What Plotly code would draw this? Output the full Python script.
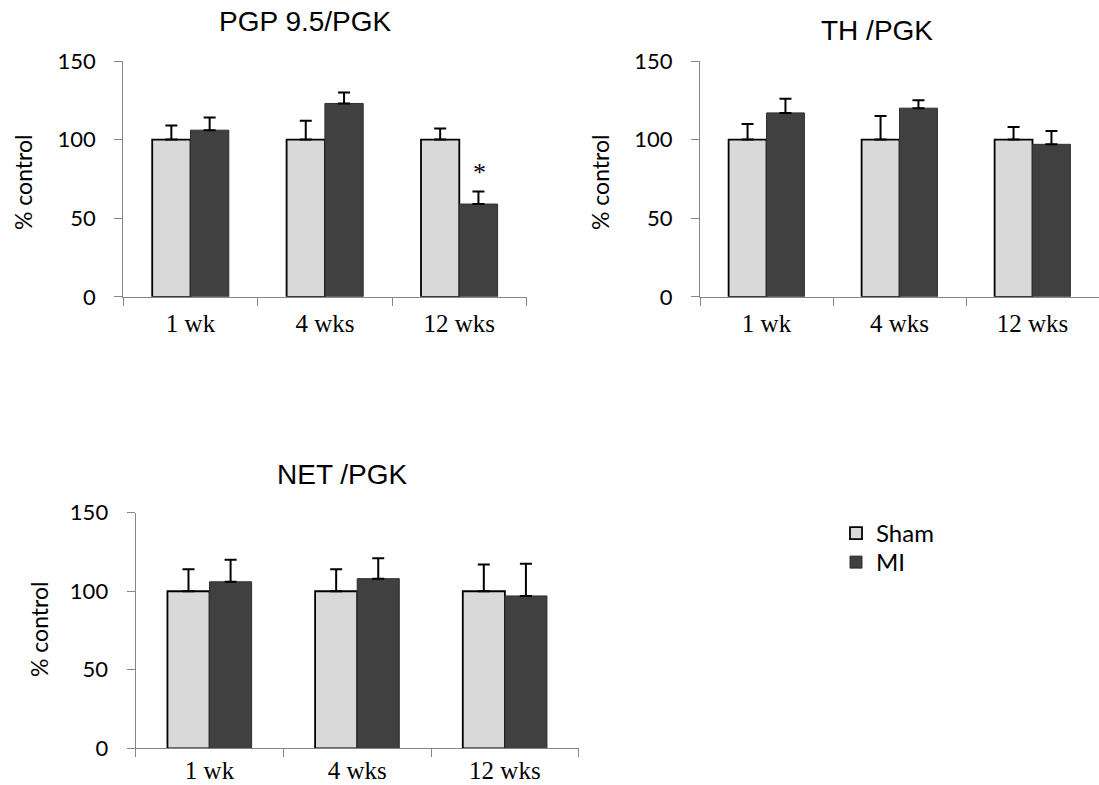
import plotly.graph_objects as go

categories = ["1 wk", "4 wks", "12 wks"]

pgp_sham = [100, 100, 100]
pgp_sham_err = [9, 12, 7]
pgp_mi = [106, 123, 59]
pgp_mi_err = [8, 7, 8]

th_sham = [100, 100, 100]
th_sham_err = [10, 15, 8]
th_mi = [117, 120, 97]
th_mi_err = [9, 5, 8.5]

net_sham = [100, 100, 100]
net_sham_err = [14, 14, 17]
net_mi = [106, 108, 97]
net_mi_err = [14, 13, 20.5]

titles = ["PGP 9.5/PGK", "TH /PGK", "NET /PGK"]
y_title = "% control"

SHAM_COLOR = "#d9d9d9"
MI_COLOR = "#404040"
AXIS_COLOR = "#868686"
W, H = 1099, 785

fig = go.Figure()

panels = [
    (pgp_sham, pgp_sham_err, pgp_mi, pgp_mi_err, "x", "y"),
    (th_sham, th_sham_err, th_mi, th_mi_err, "x2", "y2"),
    (net_sham, net_sham_err, net_mi, net_mi_err, "x3", "y3"),
]

for i, (s, se, m, me, xa, ya) in enumerate(panels):
    fig.add_trace(go.Bar(
        x=categories, y=s, name="Sham", xaxis=xa, yaxis=ya,
        marker=dict(color=SHAM_COLOR, line=dict(color="black", width=1.8)),
        error_y=dict(type="data", symmetric=False, array=se, arrayminus=[0] * len(se),
                     color="black", thickness=2, width=6),
        showlegend=(i == 0), legend="legend",
    ))
    fig.add_trace(go.Bar(
        x=categories, y=m, name="MI", xaxis=xa, yaxis=ya,
        marker=dict(color=MI_COLOR, line=dict(color="#303030", width=1)),
        error_y=dict(type="data", symmetric=False, array=me, arrayminus=[0] * len(me),
                     color="black", thickness=2, width=6),
        showlegend=(i == 0), legend="legend2",
    ))

def xaxis_cfg(domain, anchor, standoff):
    return dict(domain=domain, anchor=anchor, type="category", range=[-0.5, 2.5],
                showline=True, linecolor=AXIS_COLOR, linewidth=1.3,
                ticks="outside", tickson="boundaries", ticklen=8, tickcolor=AXIS_COLOR,
                tickwidth=1.3, showgrid=False, zeroline=False, automargin=False,
                ticklabelstandoff=standoff,
                tickfont=dict(family="Liberation Serif", size=25, color="black"))

def yaxis_cfg(domain, anchor):
    return dict(domain=domain, anchor=anchor, range=[0, 150], tickvals=[0, 50, 100, 150],
                showline=True, linecolor=AXIS_COLOR, linewidth=1.3,
                ticks="outside", ticklen=8, tickcolor=AXIS_COLOR, tickwidth=1.3,
                showgrid=False, zeroline=False, ticklabelstandoff=14, automargin=False,
                tickfont=dict(family="Lato", size=22, color="black"))

legend_font = dict(family="Lato", size=24, color="black")

fig.update_layout(
    width=W, height=H, autosize=False,
    margin=dict(l=0, r=0, t=0, b=0, pad=0, autoexpand=False),
    paper_bgcolor="white", plot_bgcolor="white",
    barmode="group", bargap=0.43, bargroupgap=0,
    xaxis=xaxis_cfg([123.3 / W, 526.5 / W], "y", 4),
    yaxis=yaxis_cfg([1 - 296.8 / H, 1 - 61 / H], "x"),
    xaxis2=xaxis_cfg([700 / W, 1.0], "y2", 4),
    yaxis2=yaxis_cfg([1 - 296.8 / H, 1 - 61 / H], "x2"),
    xaxis3=xaxis_cfg([135.7 / W, 578.7 / W], "y3", 0),
    yaxis3=yaxis_cfg([1 - 748.3 / H, 1 - 512.7 / H], "x3"),
    legend=dict(x=836 / W, y=1 - 511 / H, xanchor="left", yanchor="top",
                font=legend_font, bgcolor="rgba(0,0,0,0)"),
    legend2=dict(x=836 / W, y=1 - 540 / H, xanchor="left", yanchor="top",
                 font=legend_font, bgcolor="rgba(0,0,0,0)"),
    showlegend=True,
)

title_pos = [(305.5, 21.7), (877, 31), (342, 474.5)]
for t, (px, py) in zip(titles, title_pos):
    fig.add_annotation(text=t, xref="paper", yref="paper", x=px / W, y=1 - py / H,
                       xanchor="center", yanchor="middle", showarrow=False,
                       font=dict(family="Liberation Sans", size=28, color="black"))

ytitle_pos = [(23, 183), (600, 183), (39, 630)]
for (px, py) in ytitle_pos:
    fig.add_annotation(text=y_title, xref="paper", yref="paper", x=px / W, y=1 - py / H,
                       xanchor="center", yanchor="middle", textangle=-90, showarrow=False,
                       font=dict(family="Lato", size=23, color="black"))

# significance marker above 12 wks MI bar
fig.add_annotation(text="*", x=categories[2], y=pgp_mi[2] + pgp_mi_err[2] + 12,
                   xref="x", yref="y", xshift=20, showarrow=False, yanchor="middle",
                   font=dict(family="Liberation Serif", size=26, color="black"))

fig.write_html("out.html", config={"displayModeBar": False},
               post_script="document.body.style.margin='0';")
